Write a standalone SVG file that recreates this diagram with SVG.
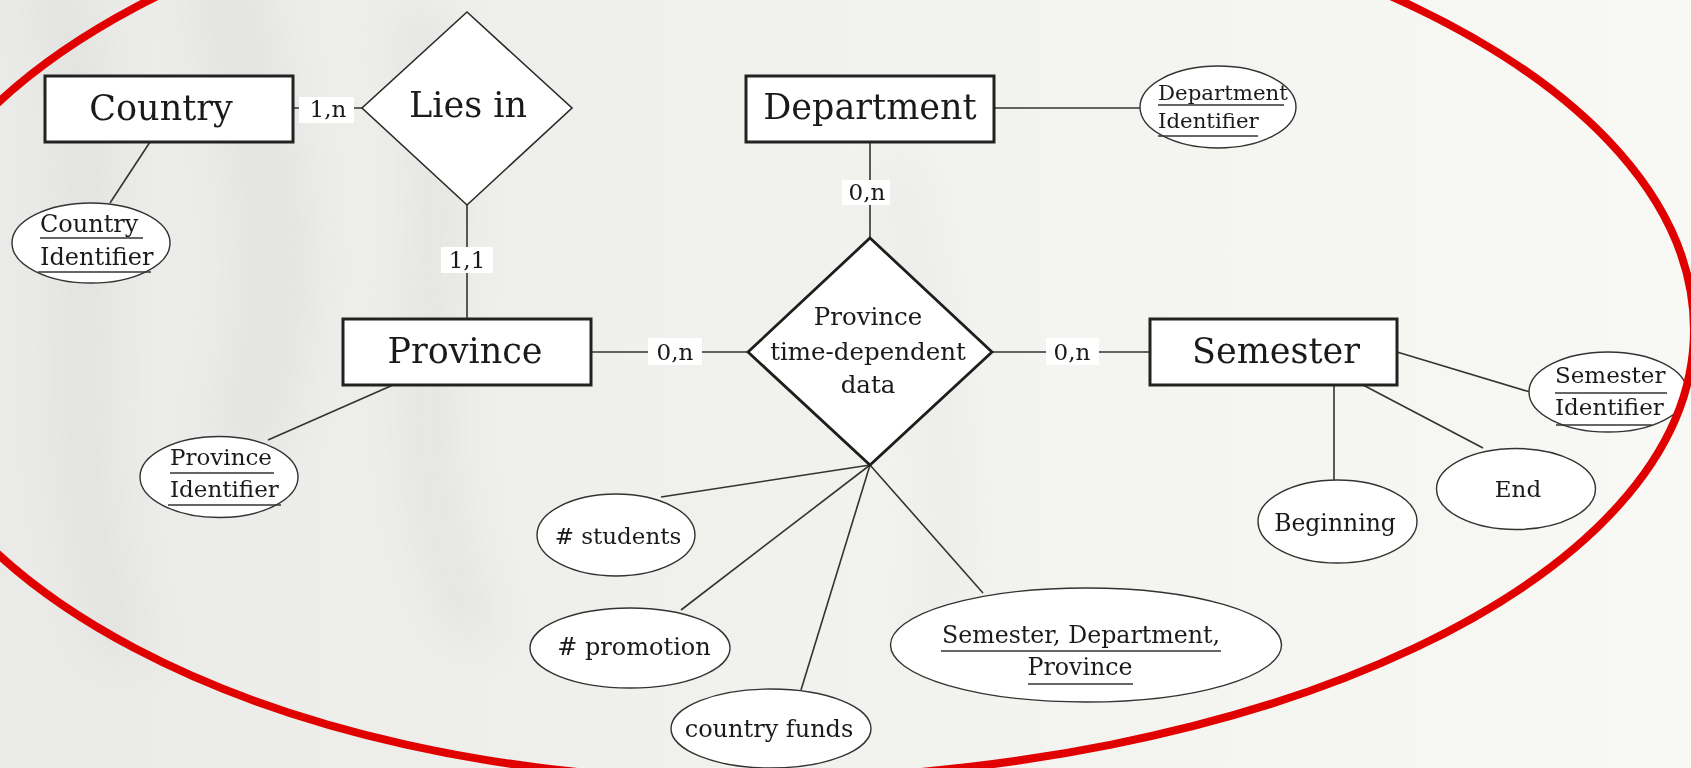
<svg xmlns="http://www.w3.org/2000/svg" width="1691" height="768" viewBox="0 0 1691 768">
  <defs>
    <linearGradient id="bg" x1="0" y1="0" x2="1" y2="0">
      <stop offset="0" stop-color="#eaeae8"/>
      <stop offset="0.4" stop-color="#f0f0ed"/>
      <stop offset="1" stop-color="#f8f8f4"/>
    </linearGradient>
    <filter id="soft" x="-50%" y="-50%" width="200%" height="200%">
      <feGaussianBlur stdDeviation="22"/>
    </filter>
    <style>
      .ent rect { fill: #ffffff; stroke: #222222; stroke-width: 3; }
      .rel polygon { fill: #ffffff; stroke: #2a2a2a; stroke-width: 1.6; }
      .rel.main polygon { stroke: #1e1e1e; stroke-width: 2.8; }
      .big { font-family: "DejaVu Serif", "Liberation Serif", serif; font-size: 35px; text-anchor: middle; fill: #1a1a1a; }
      .attr ellipse { fill: #ffffff; stroke: #333333; stroke-width: 1.4; }
      .small { font-family: "DejaVu Serif", "Liberation Serif", serif; font-size: 23px; fill: #1a1a1a; }
      .mid { text-anchor: middle; }
      .uline { stroke: #333333; stroke-width: 1.6; }
      .conn line { stroke: #333333; stroke-width: 1.6; }
      .card rect { fill: #ffffff; }
      .card text { font-family: "DejaVu Serif", "Liberation Serif", serif; font-size: 23px; text-anchor: middle; fill: #1a1a1a; }
      .ring { fill: none; stroke: #e10000; stroke-width: 8; }
    </style>
  </defs>

  <!-- paper background with faint streaks -->
  <rect x="0" y="0" width="1691" height="768" fill="url(#bg)"/>
  <g filter="url(#soft)" opacity="0.4" fill="none" stroke="#d6d6d4" stroke-linecap="round">
    <path d="M 60 0 C 120 200 40 420 120 640" stroke-width="50"/>
    <path d="M 230 0 C 260 150 300 260 250 420" stroke-width="70"/>
    <path d="M 420 30 C 470 240 380 420 470 620" stroke-width="45"/>
    <path d="M 900 180 C 930 320 960 480 940 640" stroke-width="40" opacity="0.5"/>
  </g>

  <!-- connectors -->
  <g id="connectors" class="conn">
    <line x1="293" y1="108" x2="362" y2="108"/>
    <line x1="467" y1="205" x2="467" y2="319"/>
    <line x1="150" y1="142" x2="110" y2="203"/>
    <line x1="393" y1="385" x2="268" y2="440"/>
    <line x1="994" y1="108" x2="1140" y2="108"/>
    <line x1="870" y1="142" x2="870" y2="238"/>
    <line x1="591" y1="352" x2="748" y2="352"/>
    <line x1="992" y1="352" x2="1150" y2="352"/>
    <line x1="870" y1="465" x2="661" y2="497"/>
    <line x1="870" y1="465" x2="681" y2="610"/>
    <line x1="870" y1="465" x2="801" y2="690"/>
    <line x1="870" y1="465" x2="983" y2="593"/>
    <line x1="1397" y1="352" x2="1530" y2="392"/>
    <line x1="1363" y1="385" x2="1483" y2="448"/>
    <line x1="1334" y1="385" x2="1334" y2="481"/>
  </g>

  <!-- cardinalities -->
  <g id="cardinalities" class="card">
    <rect x="299" y="97" width="55" height="26"/>
    <text x="328" y="117">1,n</text>
    <rect x="441" y="247" width="52" height="26"/>
    <text x="467" y="268">1,1</text>
    <rect x="842" y="180" width="48" height="25"/>
    <text x="867" y="200">0,n</text>
    <rect x="648" y="338" width="54" height="27"/>
    <text x="675" y="360">0,n</text>
    <rect x="1046" y="338" width="53" height="27"/>
    <text x="1072" y="360">0,n</text>
  </g>

  <!-- entities -->
  <g id="country" class="ent">
    <rect x="45" y="76" width="248" height="66"/>
    <text class="big" x="161" y="120">Country</text>
  </g>
  <g id="department" class="ent">
    <rect x="746" y="76" width="248" height="66"/>
    <text class="big" x="870" y="119">Department</text>
  </g>
  <g id="province" class="ent">
    <rect x="343" y="319" width="248" height="66"/>
    <text class="big" x="465" y="363">Province</text>
  </g>
  <g id="semester" class="ent">
    <rect x="1150" y="319" width="247" height="66"/>
    <text class="big" x="1276" y="363">Semester</text>
  </g>

  <!-- relationships -->
  <g id="lies-in" class="rel">
    <polygon points="467,12 572,108 467,205 362,108"/>
    <text class="big" x="468" y="117">Lies in</text>
  </g>
  <g id="province-time-data" class="rel main">
    <polygon points="870,238 992,352 870,465 748,352"/>
    <text class="small mid" x="868" y="325" style="font-size:24.5px">Province</text>
    <text class="small mid" x="868" y="360" style="font-size:24.5px">time-dependent</text>
    <text class="small mid" x="868" y="393" style="font-size:24.5px">data</text>
  </g>

  <!-- attributes -->
  <g id="country-identifier" class="attr">
    <ellipse cx="91" cy="243" rx="79" ry="40"/>
    <text class="small" x="40" y="232" style="font-size:24px">Country</text>
    <line class="uline" x1="40" y1="238" x2="143" y2="238"/>
    <text class="small" x="40" y="265" style="font-size:24px">Identifier</text>
    <line class="uline" x1="38" y1="272" x2="151" y2="272"/>
  </g>
  <g id="province-identifier" class="attr">
    <ellipse cx="219" cy="477" rx="79" ry="40.5"/>
    <text class="small" x="170" y="465">Province</text>
    <line class="uline" x1="170" y1="473" x2="274" y2="473"/>
    <text class="small" x="170" y="497">Identifier</text>
    <line class="uline" x1="168" y1="505" x2="281" y2="505"/>
  </g>
  <g id="department-identifier" class="attr">
    <ellipse cx="1218" cy="107" rx="78" ry="41"/>
    <text class="small" x="1158" y="100" style="font-size:21.3px">Department</text>
    <line class="uline" x1="1158" y1="105" x2="1284" y2="105"/>
    <text class="small" x="1158" y="128" style="font-size:21.3px">Identifier</text>
    <line class="uline" x1="1158" y1="136" x2="1258" y2="136"/>
  </g>
  <g id="semester-identifier" class="attr">
    <ellipse cx="1608" cy="392" rx="79" ry="40"/>
    <text class="small" x="1555" y="383">Semester</text>
    <line class="uline" x1="1555" y1="393" x2="1667" y2="393"/>
    <text class="small" x="1555" y="415">Identifier</text>
    <line class="uline" x1="1556" y1="425" x2="1652" y2="425"/>
  </g>
  <g id="beginning" class="attr">
    <ellipse cx="1337.5" cy="521.5" rx="79.5" ry="41.5"/>
    <text class="small mid" x="1335" y="531" style="font-size:23.5px">Beginning</text>
  </g>
  <g id="end" class="attr">
    <ellipse cx="1516" cy="489" rx="79.5" ry="40.5"/>
    <text class="small mid" x="1518" y="497">End</text>
  </g>
  <g id="students" class="attr">
    <ellipse cx="616" cy="535" rx="79" ry="41"/>
    <text class="small mid" x="618" y="544">#&#160;students</text>
  </g>
  <g id="promotion" class="attr">
    <ellipse cx="630" cy="648" rx="100" ry="40"/>
    <text class="small mid" x="634" y="655" style="font-size:24px">#&#160;promotion</text>
  </g>
  <g id="country-funds" class="attr">
    <ellipse cx="771" cy="728.5" rx="100" ry="39.5"/>
    <text class="small mid" x="769" y="737" style="font-size:24px">country funds</text>
  </g>
  <g id="composite-key" class="attr">
    <ellipse cx="1086" cy="645" rx="195.5" ry="57"/>
    <text class="small mid" x="1081" y="643" style="font-size:23.7px">Semester, Department,</text>
    <line class="uline" x1="941" y1="651" x2="1221" y2="651"/>
    <text class="small mid" x="1080" y="675" style="font-size:23.7px">Province</text>
    <line class="uline" x1="1028" y1="684" x2="1133" y2="684"/>
  </g>

  <!-- hand-drawn red outline around the whole model -->
  <path class="ring" d="M -115 330 C -115 78 265 -126 745 -126 C 1267 -126 1694 78 1694 330 C 1694 578 1267 780 740 780 C 265 780 -115 578 -115 330 Z"/>
</svg>
